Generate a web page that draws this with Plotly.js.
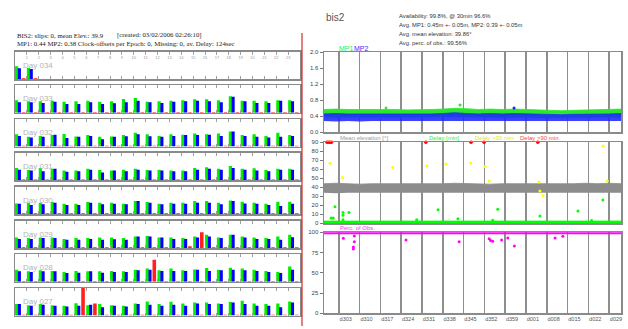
<!DOCTYPE html>
<html><head><meta charset="utf-8">
<script src="https://cdn.plot.ly/plotly-3.0.1.min.js"></script>
<style>html,body{margin:0;padding:0;background:#fff;}#chart{width:628px;height:329px;}</style>
</head><body><div id="chart"></div>
<script>
const W = 628, H = 329;
// ---------- left panel data (hourly bars per day) ----------
const hours = [0,1,2,3,4,5,6,7,8,9,10,11,12,13,14,15,16,17,18,19,20,21,22,23];
const hourTicks = [1,2,3,4,5,6,7,8,9,10,11,12,13,14,15,16,17,18,19,20,21,22,23];
const dayLabels = ['Day 034','Day 033','Day 032','Day 031','Day 030','Day 029','Day 028','Day 027'];

const mp1_d034 = [0.46,0.40];
const mp2_d034 = [0.39,0.36];
const dly_d034 = [0.03,0.03];

const mp1_d033 = [0.46,0.42,0.42,0.44,0.40,0.42,0.44,0.40,0.42,0.50,0.54,0.40,0.42,0.44,0.46,0.49,0.49,0.46,0.60,0.44,0.44,0.42,0.46,0.46];
const mp2_d033 = [0.38,0.38,0.36,0.40,0.32,0.32,0.38,0.32,0.35,0.38,0.44,0.38,0.36,0.40,0.42,0.44,0.42,0.38,0.58,0.42,0.36,0.36,0.44,0.42];
const dly_d033 = [0.03,0.03,0.03,0.03,0.03,0.03,0.03,0.03,0.03,0.03,0.03,0.03,0.03,0.03,0.03,0.03,0.03,0.03,0.03,0.03,0.03,0.03,0.03,0.03];

const mp1_d032 = [0.45,0.36,0.39,0.42,0.46,0.37,0.42,0.36,0.37,0.42,0.50,0.45,0.39,0.45,0.43,0.48,0.45,0.48,0.55,0.42,0.45,0.39,0.50,0.42];
const mp2_d032 = [0.39,0.33,0.36,0.43,0.31,0.36,0.39,0.27,0.36,0.38,0.45,0.38,0.36,0.39,0.42,0.42,0.43,0.39,0.55,0.39,0.36,0.33,0.36,0.39];
const dly_d032 = [0.03,0.03,0.03,0.03,0.03,0.03,0.03,0.03,0.03,0.03,0.03,0.03,0.03,0.03,0.03,0.03,0.03,0.03,0.03,0.03,0.03,0.03,0.03,0.03];

const mp1_d031 = [0.45,0.38,0.45,0.42,0.36,0.36,0.42,0.38,0.36,0.39,0.42,0.38,0.39,0.36,0.36,0.45,0.48,0.42,0.52,0.42,0.44,0.38,0.42,0.42];
const mp2_d031 = [0.39,0.36,0.33,0.42,0.31,0.33,0.39,0.29,0.36,0.33,0.39,0.36,0.36,0.33,0.33,0.39,0.42,0.39,0.45,0.39,0.36,0.33,0.39,0.39];
const dly_d031 = [0.03,0.03,0.03,0.03,0.03,0.03,0.03,0.03,0.03,0.03,0.03,0.03,0.03,0.03,0.03,0.03,0.03,0.03,0.03,0.03,0.03,0.03,0.03,0.03];

const mp1_d030 = [0.39,0.42,0.42,0.44,0.38,0.38,0.44,0.42,0.42,0.38,0.48,0.44,0.38,0.42,0.42,0.48,0.48,0.42,0.50,0.45,0.42,0.38,0.45,0.45];
const mp2_d030 = [0.38,0.33,0.36,0.42,0.33,0.33,0.42,0.36,0.38,0.36,0.48,0.42,0.36,0.38,0.38,0.42,0.42,0.36,0.48,0.39,0.38,0.33,0.30,0.38];
const dly_d030 = [0.03,0.03,0.03,0.03,0.03,0.03,0.03,0.03,0.03,0.03,0.03,0.03,0.03,0.03,0.03,0.03,0.03,0.03,0.03,0.03,0.03,0.03,0.03,0.03];

const mp1_d029 = [0.38,0.36,0.38,0.38,0.33,0.36,0.36,0.38,0.38,0.36,0.42,0.44,0.38,0.38,0.36,0.42,0.48,0.38,0.48,0.42,0.38,0.36,0.42,0.48];
const mp2_d029 = [0.33,0.33,0.36,0.36,0.30,0.30,0.33,0.30,0.32,0.30,0.42,0.42,0.38,0.33,0.33,0.38,0.42,0.36,0.48,0.38,0.33,0.33,0.30,0.39];
const dly_d029 = [0.03,0.03,0.03,0.03,0.03,0.03,0.03,0.03,0.03,0.03,0.03,0.03,0.03,0.03,0.06,0.57,0.03,0.03,0.03,0.03,0.03,0.03,0.03,0.03];

const mp1_d028 = [0.44,0.38,0.42,0.39,0.36,0.39,0.38,0.38,0.39,0.38,0.44,0.48,0.42,0.48,0.42,0.45,0.50,0.44,0.51,0.48,0.44,0.39,0.36,0.56];
const mp2_d028 = [0.38,0.36,0.38,0.38,0.32,0.33,0.38,0.33,0.36,0.36,0.42,0.44,0.39,0.39,0.39,0.44,0.39,0.42,0.44,0.42,0.39,0.36,0.32,0.44];
const dly_d028 = [0.03,0.03,0.03,0.03,0.03,0.03,0.03,0.03,0.03,0.03,0.03,0.80,0.03,0.03,0.03,0.03,0.03,0.03,0.03,0.03,0.03,0.03,0.03,0.03];

const mp1_d027 = [0.42,0.38,0.42,0.38,0.36,0.45,0.38,0.42,0.38,0.36,0.44,0.51,0.42,0.50,0.44,0.48,0.48,0.44,0.49,0.54,0.44,0.42,0.44,0.51];
const mp2_d027 = [0.42,0.36,0.39,0.36,0.33,0.36,0.39,0.30,0.36,0.33,0.42,0.39,0.36,0.39,0.36,0.44,0.42,0.42,0.48,0.42,0.36,0.36,0.30,0.48];
const dly_d027 = [0.03,0.03,0.03,0.03,0.03,1.00,0.44,0.03,0.03,0.03,0.03,0.03,0.03,0.03,0.03,0.03,0.03,0.03,0.03,0.03,0.03,0.03,0.03,0.03];

// ---------- right panel data ----------
const dayTicks = [303,310,317,324,331,338,345,352,359,366,373,380,387,394];
const dayTickLabels = ['d303','d310','d317','d324','d331','d338','d345','d352','d359','d001','d008','d015','d022','d029'];
const bandDays = [298,302,306,310,314,318,322,326,330,334,338,342,346,350,354,358,362,366,370,374,378,382,386,390,394,398];
const mp1Upper = [0.57,0.58,0.57,0.57,0.57,0.58,0.57,0.56,0.56,0.57,0.58,0.60,0.59,0.57,0.58,0.57,0.58,0.57,0.55,0.54,0.54,0.55,0.56,0.57,0.57,0.58];
const mp1Lower = [0.37,0.37,0.36,0.37,0.37,0.36,0.37,0.37,0.36,0.37,0.38,0.38,0.37,0.37,0.37,0.36,0.37,0.37,0.36,0.36,0.36,0.36,0.37,0.37,0.37,0.37];
const mp2Upper = [0.46,0.47,0.46,0.46,0.46,0.45,0.46,0.45,0.46,0.46,0.47,0.49,0.47,0.46,0.47,0.46,0.47,0.46,0.45,0.44,0.44,0.45,0.45,0.46,0.46,0.47];
const mp2Lower = [0.28,0.27,0.28,0.27,0.28,0.28,0.27,0.28,0.27,0.28,0.27,0.28,0.27,0.28,0.28,0.27,0.28,0.27,0.28,0.27,0.27,0.28,0.27,0.28,0.27,0.28];
const mp1OutDays = [318.9,343.8];
const mp1OutVals = [0.61,0.68];
const mp2OutDays = [362.0];
const mp2OutVals = [0.61];

const elevUpper = [44,44.5,44,43.5,44,44,43.5,44,44,43.5,44,44.5,44,44,43.5,44,44,43.5,44,43.5,44,44,44.5,44,44.5,44];
const elevLower = [34,33.5,34,34,33.5,34,34,34,33.5,34,34,33.5,34,34,33.5,34,34,34,33.5,34,34,33.5,34,33.5,34,34];
const delayUpper = [2.5,2.5,2.5,2.5,2.5,2.5,2.5,2.5,2.5,2.5,2.5,2.5,2.5,2.5,2.5,2.5,2.5,2.5,2.5,2.5,2.5,2.5,2.5,2.5,2.5,2.5];
const delayLower = [0,0,0,0,0,0,0,0,0,0,0,0,0,0,0,0,0,0,0,0,0,0,0,0,0,0];
const delayPtDays = [301.7,300.4,301.1,304.4,304.4,306.4,304.4,329.2,336.4,343.1,356.5,354.8,370.7,383.5,391.9,388.1];
const delayPtVals = [18.4,6,6,12,9,12,4,4,15,5,15.5,3.5,8,13.7,26,3];
const d30Days = [300.0,304.3,321.1,332.6,339.1,347.4,352.2,353.6,370.4,371.8,370.7,392.0,393.4];
const d30Vals = [66.7,51,62,63.6,66,67,63,47,46,31,36,86,47];
const d90Days = [299.0,299.5,300.0,300.5,332.3,347.5,351.9,370.0];
const d90Vals = [90,90,90,90,90,90,90,90];

const percUpper = [100.5,100.5,100.5,100.5,100.5,100.5,100.5,100.5,100.5,100.5,100.5,100.5,100.5,100.5,100.5,100.5,100.5,100.5,100.5,100.5,100.5,100.5,100.5,100.5,100.5,100.5];
const percLower = [97.5,97.5,97,97.5,97.5,97.5,97.5,97.5,97.5,97.5,97.5,97,97.5,97.5,97,97.5,97.5,97.5,97.5,97.5,97.5,97,97.5,97.5,97.5,97.5];
const percOutDays = [304.5,308.2,308.2,307.9,307.9,325.6,343.5,353.6,354.1,354.8,357.8,359.9,362.1,375.8,378.4];
const percOutVals = [92.6,95.4,88.4,82,79.4,90.5,88.4,92,90,89,90.5,93,83,93,95];

// ---------- build ----------
const px = x => x / W;
const py = y => 1 - y / H;
const GREEN = '#00ee00', BLUE = '#0000ff', RED = '#ff2020';

const days = [
  [mp1_d034, mp2_d034, dly_d034],
  [mp1_d033, mp2_d033, dly_d033],
  [mp1_d032, mp2_d032, dly_d032],
  [mp1_d031, mp2_d031, dly_d031],
  [mp1_d030, mp2_d030, dly_d030],
  [mp1_d029, mp2_d029, dly_d029],
  [mp1_d028, mp2_d028, dly_d028],
  [mp1_d027, mp2_d027, dly_d027]
];

const traces = [];
const layout = {
  width: W, height: H, margin: {l:0, r:0, t:0, b:0},
  paper_bgcolor: '#fff', plot_bgcolor: 'rgba(0,0,0,0)',
  showlegend: false, barmode: 'overlay',
  font: {family: 'Liberation Sans, Arial, sans-serif', size: 6, color: '#444'},
  annotations: [], shapes: []
};

days.forEach((d, i) => {
  const n = i + 1;
  const xa = 'x' + n, ya = 'y' + n;
  const hx = hours.slice(0, d[0].length);
  traces.push({type:'bar', x: hx, y: d[0], xaxis: xa, yaxis: ya, width: 0.27, offset: 0.0,
               marker: {color: GREEN, line: {width: 0}}, hoverinfo: 'skip'});
  traces.push({type:'bar', x: hx, y: d[1], xaxis: xa, yaxis: ya, width: 0.26, offset: 0.24,
               marker: {color: BLUE, line: {width: 0}}, hoverinfo: 'skip'});
  traces.push({type:'bar', x: hx, y: d[2], xaxis: xa, yaxis: ya, width: 0.3, offset: 0.58,
               marker: {color: RED, line: {width: 0}}, hoverinfo: 'skip'});
  const top = 51.5 + 33.8 * i;
  layout['xaxis' + n] = {
    domain: [px(15), px(300)], range: [0, 24], anchor: ya,
    showline: true, mirror: 'ticks', linecolor: '#8a8a8a', linewidth: 1.5,
    ticks: 'inside', ticklen: 3, tickcolor: '#a0a0a0', tickvals: hourTicks,
    showticklabels: i === 0, side: i === 0 ? 'top' : 'bottom', ticklabelposition: 'inside',
    tickangle: 0, tickfont: {size: 4, color: '#999'}, showgrid: false, zeroline: false, fixedrange: true
  };
  layout['yaxis' + n] = {
    domain: [py(top + 27.5), py(top)], range: [0, 1], anchor: xa,
    showline: true, mirror: true, linecolor: '#8a8a8a', linewidth: 1.5,
    showticklabels: false, ticks: '', showgrid: false, zeroline: false, fixedrange: true
  };
  layout.annotations.push({xref:'paper', yref:'paper', x: px(21), y: py(top + 13.5), xanchor:'left', yanchor:'middle',
    text: dayLabels[i], showarrow: false, font: {size: 8, color: '#b4b4b4'}});
});

// right panel
function band(lo, hi, ya, color) {
  traces.push({type:'scatter', mode:'lines', x: bandDays, y: lo, xaxis:'x9', yaxis: ya,
               line:{width:0, color: color}, hoverinfo:'skip'});
  traces.push({type:'scatter', mode:'lines', x: bandDays, y: hi, xaxis:'x9', yaxis: ya,
               fill:'tonexty', fillcolor: color, line:{width:0.8, color: color}, hoverinfo:'skip'});
}
function pts(xs, ys, ya, color, size) {
  traces.push({type:'scatter', mode:'markers', x: xs, y: ys, xaxis:'x9', yaxis: ya,
               marker:{size: size || 3, color: color}, cliponaxis: false, hoverinfo:'skip'});
}
band(mp1Lower, mp1Upper, 'y9', '#2ce82c');
band(mp2Lower, mp2Upper, 'y9', 'rgba(30,40,255,0.88)');
pts(mp1OutDays, mp1OutVals, 'y9', '#2ce82c');
pts(mp2OutDays, mp2OutVals, 'y9', '#1a1aff');

band(elevLower, elevUpper, 'y10', '#8c8c8c');
band(delayLower, delayUpper, 'y10', '#00ff00');
pts(delayPtDays, delayPtVals, 'y10', '#00ff00');
pts(d30Days, d30Vals, 'y10', '#ffff00');
pts(d90Days, d90Vals, 'y10', '#ff0000', 3.5);

band(percLower, percUpper, 'y11', '#ff00ff');
pts(percOutDays, percOutVals, 'y11', '#ff00ff');

layout.xaxis9 = {
  domain: [px(324), px(621)], range: [298, 398], anchor: 'y11',
  tickvals: dayTicks, ticktext: dayTickLabels, ticks: '', ticklabelposition: 'outside right',
  tickangle: 0, tickfont: {size: 5.5, color: '#555'}, showgrid: true, gridcolor: '#8e8e8e', gridwidth: 1.5,
  showline: true, mirror: 'all', linecolor: '#8a8a8a', linewidth: 1.5, zeroline: false, fixedrange: true
};
const yCommon = {anchor: 'x9', showline: true, mirror: true, linecolor: '#8a8a8a', linewidth: 1.5,
  ticks: 'outside', ticklen: 3, tickcolor: '#777', showgrid: false, zeroline: false,
  tickfont: {size: 6, color: '#444'}, fixedrange: true};
layout.yaxis9 = Object.assign({}, yCommon, {domain: [py(132.3), py(52.3)], range: [0, 2], tick0: 0, dtick: 0.4, tickformat: '.1f'});
layout.yaxis10 = Object.assign({}, yCommon, {domain: [py(223.3), py(142.3)], range: [0, 90], tick0: 0, dtick: 10});
layout.yaxis11 = Object.assign({}, yCommon, {domain: [py(313.3), py(232.3)], range: [0, 100], tick0: 0, dtick: 25});

function note(text, x, y, size, color, family) {
  layout.annotations.push({xref:'paper', yref:'paper', x: px(x), y: py(y), xanchor:'left', yanchor:'middle',
    text: text, showarrow: false, font: {size: size, color: color, family: family || 'Liberation Sans, Arial, sans-serif'}});
}
const serif = 'Liberation Serif, Times New Roman, serif';
note('BIS2: slips: 0, mean Elev.: 39.9', 15, 35, 6.8, '#222', serif);
note('[created: 03/02/2006 02:26:10]', 115, 35, 6.8, '#222', serif);
note('MP1: 0.44 MP2: 0.38 Clock-offsets per Epoch: 0, Missing: 0, av. Delay: 124sec', 15, 43.5, 6.8, '#222', serif);

note('bis2', 324, 18, 10, '#555');
note('Availability: 99.8%, @ 30min 96.6%', 397, 16, 5.8, '#333');
note('Avg. MP1: 0.45m +- 0.05m, MP2: 0.39 +- 0.05m', 397, 25, 5.8, '#333');
note('Avg. mean elevation: 39.86°', 397, 34, 5.8, '#333');
note('Avg. perc. of obs.: 99.56%', 397, 43, 5.8, '#333');

note('MP1', 337, 48, 7, '#33ee33');
note('MP2', 352, 48, 7, '#3333ff');
note('Mean elevation [°]', 338, 137.5, 6, '#999');
note('Delay [min]', 427, 137.5, 6, '#33ee33');
note('Delay >30 min', 473, 137.5, 6, '#e6e600');
note('Delay >90 min', 518, 137.5, 6, '#ff4444');
note('Perc. of Obs.', 338, 228, 6, '#ff33ff');

layout.shapes.push({type:'line', xref:'paper', yref:'paper', x0: px(302), x1: px(302), y0: py(33), y1: py(326),
  line: {color: '#d42a2a', width: 1.2}});

Plotly.newPlot('chart', traces, layout, {staticPlot: true, displayModeBar: false});
</script>
</body></html>
